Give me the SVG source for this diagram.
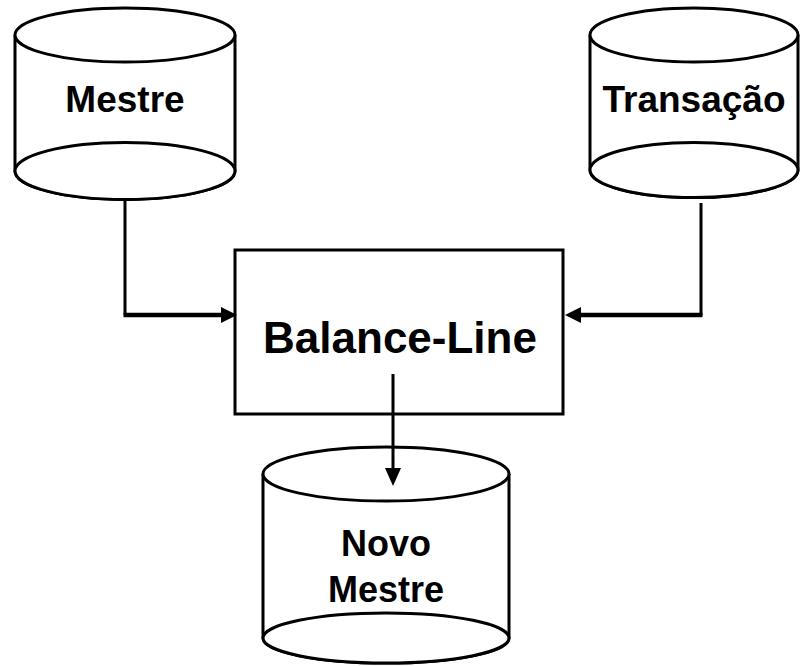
<svg xmlns="http://www.w3.org/2000/svg" width="800" height="666" viewBox="0 0 800 666">
  <style>
    .shape { fill: #ffffff; stroke: #000000; stroke-width: 3; }
    .label { font-family: "Liberation Sans", Arial, sans-serif; font-weight: bold; fill: #000000; text-anchor: middle; }
    .wire { fill: none; stroke: #000000; stroke-width: 3; stroke-linejoin: miter; }
    .wire-h { fill: none; stroke: #000000; stroke-width: 4.5; }
    .head { fill: #000000; stroke: none; }
  </style>
  <rect width="800" height="666" fill="#ffffff"/>

  <!-- Master file (cylinder) -->
  <g id="mestre">
    <path class="shape" d="M15,35 L15,171 A110,28.5 0 0 0 235,171 L235,35"/>
    <ellipse class="shape" cx="125" cy="171" rx="110" ry="28.5"/>
    <ellipse class="shape" cx="125" cy="35" rx="110" ry="27"/>
    <text class="label" x="125" y="112" font-size="37">Mestre</text>
  </g>

  <!-- Transaction file (cylinder) -->
  <g id="transacao">
    <path class="shape" d="M590,35 L590,170 A104,27.5 0 0 0 798,170 L798,35"/>
    <ellipse class="shape" cx="694" cy="170" rx="104" ry="27.5"/>
    <ellipse class="shape" cx="694" cy="35" rx="104" ry="27"/>
    <text class="label" x="694" y="112" font-size="37">Transação</text>
  </g>

  <!-- Balance-line process -->
  <g id="balance-line">
    <rect class="shape" x="235" y="250" width="328" height="164"/>
    <text class="label" x="400" y="353" font-size="44">Balance-Line</text>
  </g>

  <!-- New master file (cylinder) -->
  <g id="novo-mestre">
    <path class="shape" d="M263,474 L263,638 A123,25 0 0 0 509,638 L509,474"/>
    <ellipse class="shape" cx="386" cy="638" rx="123" ry="25"/>
    <ellipse class="shape" cx="386" cy="474" rx="123" ry="27"/>
    <text class="label" x="386" y="556" font-size="36">Novo</text>
    <text class="label" x="386" y="602" font-size="36">Mestre</text>
  </g>

  <!-- Connectors -->
  <g id="connectors">
    <polyline class="wire" points="125,199 125,315"/>
    <line class="wire-h" x1="123.5" y1="315" x2="223" y2="315"/>
    <polygon class="head" points="237,315 221,307 221,323"/>

    <polyline class="wire" points="701,203 701,315"/>
    <line class="wire-h" x1="702.5" y1="315" x2="579" y2="315"/>
    <polygon class="head" points="565,315 581,307 581,323"/>

    <line class="wire" x1="393" y1="374" x2="393" y2="470"/>
    <polygon class="head" points="393,486 385,468 401,468"/>
  </g>
</svg>
